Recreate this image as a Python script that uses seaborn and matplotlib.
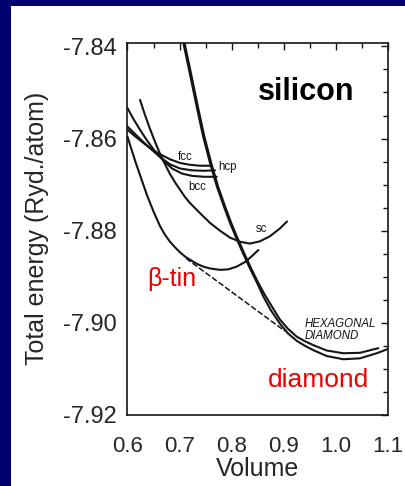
import numpy as np
import pandas as pd
import matplotlib
matplotlib.use("Agg")
import matplotlib.pyplot as plt
from matplotlib.patches import Rectangle
from matplotlib.ticker import MultipleLocator, FormatStrFormatter
import seaborn as sns

# Total energy (Ryd./atom) versus volume for silicon phases
diamond_v = [0.7071, 0.7200, 0.7328, 0.7449, 0.7583, 0.7718, 0.7852, 0.7967, 0.8096,
             0.8217, 0.8351, 0.8486, 0.8607, 0.8754, 0.8927, 0.9081, 0.9248, 0.9407,
             0.9580, 0.9823, 1.0142, 1.0463, 1.0783, 1.1038]
diamond_e = [-7.8392, -7.8461, -7.8531, -7.8594, -7.8653, -7.8705, -7.8748, -7.8783,
             -7.8818, -7.8849, -7.8882, -7.8913, -7.8943, -7.8973, -7.9002, -7.9023,
             -7.9039, -7.9050, -7.9060, -7.9072, -7.9079, -7.9077, -7.9066, -7.9055]

hexdia_v = [0.7094, 0.7223, 0.7351, 0.7472, 0.7607, 0.7741, 0.7875, 0.7990, 0.8119,
            0.8240, 0.8374, 0.8505, 0.8630, 0.8774, 0.8927, 0.9081, 0.9248, 0.9407,
            0.9580, 0.9823, 1.0142, 1.0463, 1.0814]
hexdia_e = [-7.8392, -7.8461, -7.8531, -7.8594, -7.8653, -7.8705, -7.8748, -7.8783,
            -7.8818, -7.8849, -7.8882, -7.8912, -7.8938, -7.8965, -7.8993, -7.9013,
            -7.9030, -7.9040, -7.9049, -7.9060, -7.9066, -7.9065, -7.9055]

btin_v = [0.6000, 0.6086, 0.6163, 0.6273, 0.6374, 0.6509, 0.6624, 0.6720, 0.6816,
          0.6912, 0.7008, 0.7104, 0.7200, 0.7334, 0.7455, 0.7583, 0.7775, 0.7929,
          0.8096, 0.8255, 0.8390, 0.8511]
btin_e = [-7.8596, -7.8627, -7.8654, -7.8690, -7.8723, -7.8761, -7.8790, -7.8809,
          -7.8824, -7.8836, -7.8847, -7.8856, -7.8863, -7.8872, -7.8878, -7.8882,
          -7.8885, -7.8884, -7.8878, -7.8868, -7.8855, -7.8842]

sc_v = [0.6240, 0.6336, 0.6432, 0.6528, 0.6624, 0.6720, 0.6816, 0.6912, 0.7008,
        0.7104, 0.7200, 0.7392, 0.7583, 0.7775, 0.7967, 0.8159, 0.8351, 0.8543,
        0.8735, 0.8927, 0.9061]
sc_e = [-7.8516, -7.8549, -7.8579, -7.8607, -7.8633, -7.8656, -7.8677, -7.8695,
        -7.8711, -7.8727, -7.8740, -7.8762, -7.8783, -7.8800, -7.8815, -7.8824,
        -7.8828, -7.8823, -7.8812, -7.8795, -7.8780]

fcc_v = [0.6000, 0.6144, 0.6298, 0.6451, 0.6624, 0.6816, 0.7008, 0.7200, 0.7392, 0.7583]
fcc_e = [-7.8581, -7.8595, -7.8609, -7.8622, -7.8634, -7.8645, -7.8653, -7.8657,
         -7.8659, -7.8659]

hcp_v = [0.6000, 0.6144, 0.6298, 0.6451, 0.6624, 0.6816, 0.7008, 0.7238, 0.7468, 0.7679]
hcp_e = [-7.8574, -7.8590, -7.8607, -7.8623, -7.8640, -7.8656, -7.8665, -7.8669,
         -7.8670, -7.8669]

bcc_v = [0.6000, 0.6106, 0.6240, 0.6374, 0.6528, 0.6681, 0.6854, 0.7046, 0.7238,
         0.7468, 0.7712]
bcc_e = [-7.8534, -7.8556, -7.8581, -7.8604, -7.8628, -7.8647, -7.8665, -7.8676,
         -7.8681, -7.8683, -7.8683]

# common tangent between beta-tin and diamond
tangent_v = [0.7123, 0.9023]
tangent_e = [-7.8860, -7.9018]

x_ticks = [0.6, 0.7, 0.8, 0.9, 1.0, 1.1]
y_ticks = [-7.92, -7.90, -7.88, -7.86, -7.84]

curves = {
    "diamond": (diamond_v, diamond_e),
    "hexagonal diamond": (hexdia_v, hexdia_e),
    "beta-tin": (btin_v, btin_e),
    "sc": (sc_v, sc_e),
    "fcc": (fcc_v, fcc_e),
    "hcp": (hcp_v, hcp_e),
    "bcc": (bcc_v, bcc_e),
}
frames = []
for name, (v, e) in curves.items():
    frames.append(pd.DataFrame({"volume": v, "energy": e, "phase": name}))
df = pd.concat(frames, ignore_index=True)
tan_df = pd.DataFrame({"volume": tangent_v, "energy": tangent_e})

sns.set_style("white")
plt.rcParams["font.family"] = ["Liberation Sans", "DejaVu Sans"]

fig = plt.figure(figsize=(4.06, 4.86), dpi=100)
fig.patch.set_facecolor("white")
# navy border strips on the left and top
fig.patches.append(Rectangle((0, 0), 11 / 406, 1, transform=fig.transFigure,
                             facecolor="#00006e", edgecolor="none", zorder=0))
fig.patches.append(Rectangle((0, 1 - 6 / 486), 1, 6 / 486, transform=fig.transFigure,
                             facecolor="#00006e", edgecolor="none", zorder=0))

ax = fig.add_axes([127.5 / 406, 1 - 415 / 486, (388 - 127.5) / 406, (415 - 42.7) / 486])

line_color = "#151515"
for name in curves:
    sub = df[df["phase"] == name]
    sns.lineplot(data=sub, x="volume", y="energy", ax=ax, sort=False, estimator=None,
                 color=line_color, lw=1.5, legend=False)
sns.lineplot(data=tan_df, x="volume", y="energy", ax=ax, sort=False, estimator=None,
             color=line_color, lw=1.1, legend=False)
ax.lines[-1].set_dashes((3.8, 1.5))
for ln in ax.lines:
    ln.set_solid_capstyle("round")
    ln.set_solid_joinstyle("round")

ax.set_xlim(0.6, 1.1)
ax.set_ylim(-7.92, -7.8392)

ax.set_xticks(x_ticks)
ax.set_yticks(y_ticks)
ax.xaxis.set_major_formatter(FormatStrFormatter("%.1f"))
ax.yaxis.set_major_formatter(FormatStrFormatter("%.2f"))
ax.xaxis.set_minor_locator(MultipleLocator(0.05))
ax.yaxis.set_minor_locator(MultipleLocator(0.005))
ax.tick_params(which="both", direction="in", top=True, right=True, color=line_color, width=1.0)
ax.tick_params(which="major", length=5)
ax.tick_params(which="minor", length=3.5)
ax.tick_params(axis="x", which="major", labelsize=16, pad=15)
ax.tick_params(axis="y", which="major", labelsize=17, pad=8)
for s in ax.spines.values():
    s.set_color(line_color)
    s.set_linewidth(1.2)

ax.set_xlabel("Volume", fontsize=18, labelpad=0)
ax.set_ylabel("Total energy (Ryd./atom)", fontsize=18, labelpad=10)

# phase labels
small = dict(fontsize=8.3, color=line_color, va="center")
ax.text(0.7104, -7.8640, "fcc", ha="center", **small)
ax.text(0.7743, -7.8661, "hcp", ha="left", **small)
ax.text(0.7340, -7.8706, "bcc", ha="center", **small)
ax.text(0.8562, -7.8796, "sc", ha="center", **small)
ax.text(0.9407, -7.90155, "HEXAGONAL\nDIAMOND", ha="left", va="center", fontsize=8.3,
        style="italic", color=line_color, linespacing=1.05)

ax.text(0.9426, -7.8499, "silicon", ha="center", va="center", fontsize=22, fontweight="bold",
        color="black")
ax.text(0.637, -7.8905, "\u03b2-tin", ha="left", va="center", fontsize=18, color="#ee0000")
ax.text(0.8697, -7.9124, "diamond", ha="left", va="center", fontsize=19, color="#ee0000")

fig.savefig("out.png", dpi=100)
